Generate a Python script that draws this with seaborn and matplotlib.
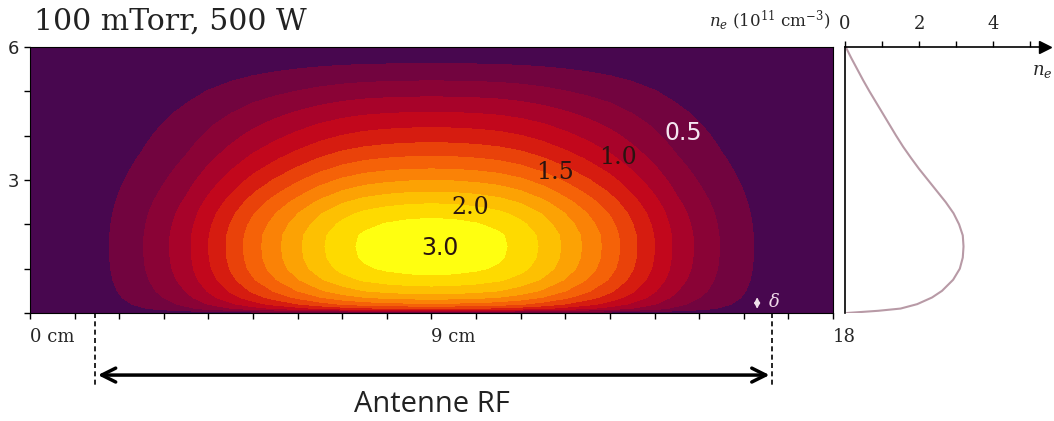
import numpy as np
import matplotlib
matplotlib.use('Agg')
import matplotlib.pyplot as plt
import seaborn as sns

x_cm = [0.0, 0.5, 1.0, 1.5, 2.0, 2.5, 3.0, 3.5, 4.0, 4.5, 5.0, 5.5, 6.0, 6.5, 7.0, 7.5, 8.0, 8.5,
        9.0, 9.5, 10.0, 10.5, 11.0, 11.5, 12.0, 12.5, 13.0, 13.5, 14.0, 14.5, 15.0, 15.5, 16.0,
        16.5, 17.0, 17.5, 18.0]
x_rel = [0.0, 0.0, 0.015, 0.05, 0.10, 0.15, 0.215, 0.29, 0.39, 0.49, 0.59, 0.68, 0.765, 0.845,
         0.91, 0.955, 0.98, 0.995, 1.0, 0.995, 0.98, 0.955, 0.91, 0.845, 0.765, 0.68, 0.59, 0.49,
         0.39, 0.29, 0.215, 0.15, 0.10, 0.05, 0.015, 0.0, 0.0]

# profil axial n_e (1e11 cm-3) au centre
z_cm = [0.0, 0.05, 0.1, 0.2, 0.35, 0.5, 0.75, 1.0, 1.25, 1.5, 1.75, 2.0, 2.25, 2.5, 2.75, 3.0,
        3.25, 3.5, 3.75, 4.0, 4.25, 4.5, 4.75, 5.0, 5.25, 5.5, 5.75, 6.0]
ne_axial = [0.05, 0.9, 1.5, 1.95, 2.35, 2.62, 2.92, 3.1, 3.18, 3.2, 3.18, 3.08, 2.93, 2.72, 2.48,
            2.24, 2.0, 1.78, 1.57, 1.38, 1.2, 1.02, 0.84, 0.66, 0.49, 0.33, 0.17, 0.02]

levels = [-1, 0.25, 0.5, 0.75, 1.0, 1.25, 1.5, 1.75, 2.0, 2.25, 2.5, 2.75, 3.0, 10]
band_colors = ['#48074f', '#72043f', '#8a0336', '#a8032a', '#c2071c', '#d61c10', '#e9420a',
               '#f56208', '#fa8206', '#fca204', '#fdc002', '#feda00', '#ffff10']

label_text = ['0.5', '1.0', '1.5', '2.0', '3.0']
label_x = [14.64, 13.18, 11.77, 9.87, 9.19]
label_z = [4.06, 3.5, 3.18, 2.39, 1.47]

sns.set_style('white')
plt.rcParams['font.family'] = ['DejaVu Serif']
plt.rcParams['mathtext.fontset'] = 'dejavuserif'

ne_map = np.outer(ne_axial, x_rel)

fig = plt.figure(figsize=(10.54, 4.21), dpi=100)
ax = fig.add_axes([30/1054, 1-313/421, 803/1054, 266/421])
ax.contourf(x_cm, z_cm, ne_map, levels=levels, colors=band_colors)
ax.set_xlim(0, 18)
ax.set_ylim(0, 6)

ax.set_xticks(range(19))
ax.set_xticklabels(['0 cm'] + ['']*8 + ['9 cm'] + ['']*8 + ['18'])
for lab in ax.get_xticklabels():
    lab.set_ha('left')
ax.tick_params(axis='x', pad=7)
ax.set_yticks(range(7))
ax.set_yticklabels(['', '', '', '3', '', '', '6'])
for lab in ax.get_yticklabels():
    lab.set_family(['DejaVu Sans'])
ax.tick_params(direction='out', length=4, width=1, color='black', labelsize=13,
               bottom=True, left=True)
for sp in ax.spines.values():
    sp.set_linewidth(0.8)
    sp.set_color('black')

# etiquettes des contours
for t, xx, zz in zip(label_text, label_x, label_z):
    col = '#f4e6f0' if t == '0.5' else '#2a1410'
    fam = ['DejaVu Sans'] if t in ('0.5', '3.0') else ['DejaVu Serif']
    ax.text(xx, zz, t, color=col, fontsize=17, family=fam, ha='center', va='center')

# gaine delta
ax.annotate('', xy=(16.3, 0.03), xytext=(16.3, 0.42),
            arrowprops=dict(arrowstyle='<|-|>', color='#f0e0ea', lw=1.2, mutation_scale=8))
ax.text(16.55, 0.24, r'$\delta$', color='#f0d8ea', fontsize=13, va='center')

# antenne RF
for xa in (1.46, 16.64):
    ax.plot([xa, xa], [0, -1.7], ls=(0, (3, 2)), color='black', lw=1.2, clip_on=False)
ax.annotate('', xy=(1.46, -1.4), xytext=(16.64, -1.4), annotation_clip=False,
            arrowprops=dict(arrowstyle='<->', color='black', lw=2.5, mutation_scale=25))
ax.text(9.0, -2.07, 'Antenne RF', ha='center', va='center', fontsize=21,
        family=['Open Sans'], color='#222222', clip_on=False)

ax.text(0.1, 6.57, '100 mTorr, 500 W', fontsize=21.5, ha='left', va='center', color='#222222')
ax.text(17.95, 6.6, r'$n_e$ $(10^{11}$ cm$^{-3})$', fontsize=12, ha='right', va='center')

# profil axial
ax2 = fig.add_axes([845/1054, 1-313/421, 200/1054, 266/421])
sns.lineplot(x=ne_axial, y=z_cm, sort=False, estimator=None, orient='y', color='#b89aa6',
             lw=1.5, ax=ax2)
ax2.set_xlim(0, 5.4)
ax2.set_ylim(0, 6)
ax2.set_xlabel('')
ax2.set_ylabel('')
ax2.xaxis.tick_top()
ax2.set_xticks(range(6))
ax2.set_xticklabels(['0', '', '2', '', '4', ''])
ax2.set_yticks([])
ax2.tick_params(axis='x', direction='out', length=4, width=1, color='black', labelsize=13, pad=6)
ax2.spines['right'].set_visible(False)
ax2.spines['bottom'].set_visible(False)
ax2.spines['left'].set_color('black')
ax2.spines['top'].set_color('black')
ax2.spines['left'].set_linewidth(1.2)
ax2.spines['top'].set_linewidth(1.2)
ax2.plot(1, 1, '>', color='black', ms=9, transform=ax2.transAxes, clip_on=False)
ax2.text(5.05, 5.45, r'$n_e$', fontsize=13, ha='left', va='center', clip_on=False)

fig.savefig('out.png', dpi=100, facecolor='white')
